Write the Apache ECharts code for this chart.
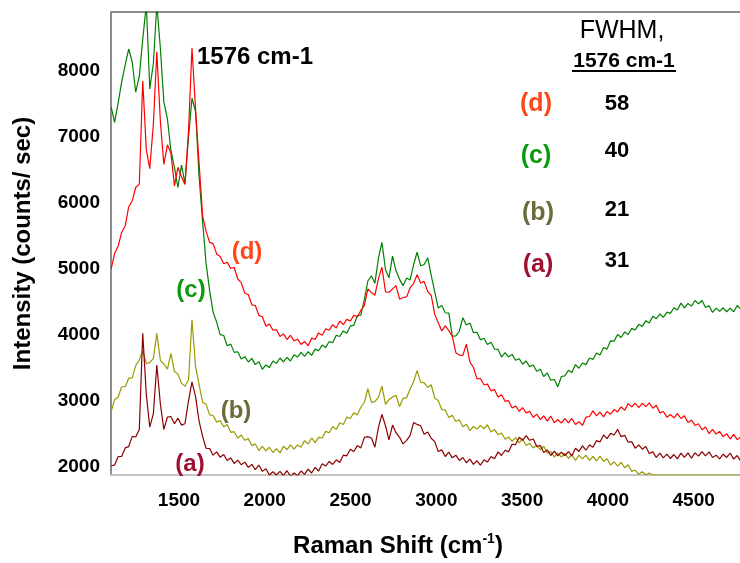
<!DOCTYPE html>
<html><head><meta charset="utf-8">
<script src="https://cdn.jsdelivr.net/npm/echarts@6/dist/echarts.min.js"></script>
<style>html,body{margin:0;padding:0;background:#fff}#c{width:740px;height:563px}</style>
</head><body><div id="c"></div>
<script>
// Raman shift sample positions (cm-1)
const xs = [
1105,1125,1146,1166,1187,1207,1228,1248,1269,1289,
1310,1330,1351,1371,1392,1412,1433,1453,1474,1494,
1515,1535,1556,1576,1597,1617,1638,1658,1679,1699,
1720,1740,1761,1781,1802,1822,1843,1863,1884,1904,
1925,1945,1966,1986,2007,2027,2048,2068,2089,2109,
2130,2150,2171,2191,2212,2232,2253,2273,2294,2314,
2335,2355,2376,2396,2417,2437,2458,2478,2499,2519,
2540,2560,2581,2601,2622,2642,2663,2683,2704,2724,
2745,2765,2786,2806,2827,2847,2868,2888,2909,2929,
2950,2970,2991,3011,3032,3052,3073,3093,3114,3134,
3155,3175,3196,3216,3237,3257,3278,3298,3319,3339,
3360,3380,3401,3421,3442,3462,3483,3503,3524,3544,
3565,3585,3606,3626,3647,3667,3688,3708,3729,3749,
3770,3790,3811,3831,3852,3872,3893,3913,3934,3954,
3975,3995,4016,4036,4057,4077,4098,4118,4139,4159,
4180,4200,4221,4241,4262,4282,4303,4323,4344,4364,
4385,4405,4426,4446,4467,4487,4508,4528,4549,4569,
4590,4610,4631,4651,4672,4692,4713,4733,4754,4774];

// (c) green spectrum, counts/sec
const specC = [
7445,7215,7515,7825,8090,8325,8125,7670,7915,8470,
9000,7720,8110,9000,8330,7525,7265,6795,6530,6230,
6570,6290,7000,7580,7380,6405,5710,5085,4670,4345,
4190,4005,3990,3835,3860,3735,3745,3635,3670,3590,
3645,3550,3595,3480,3545,3505,3605,3570,3650,3590,
3660,3605,3700,3665,3735,3675,3745,3690,3785,3760,
3845,3810,3900,3880,3995,3975,4060,4025,4135,4145,
4290,4300,4540,4815,4895,4780,5165,5400,4985,4865,
5190,4970,4840,4745,4860,4830,5065,5250,5045,5065,
5165,4905,4650,4405,4445,4335,4330,3980,3985,4055,
4260,4150,4180,4035,4040,3925,3950,3855,3890,3785,
3780,3665,3730,3665,3705,3615,3640,3555,3605,3520,
3545,3450,3480,3370,3425,3315,3325,3215,3370,3380,
3465,3430,3550,3495,3575,3550,3650,3630,3725,3695,
3810,3785,3910,3905,4005,3960,4045,4005,4100,4075,
4160,4125,4215,4180,4280,4245,4315,4265,4345,4325,
4410,4375,4480,4410,4475,4435,4520,4470,4520,4415,
4440,4340,4405,4355,4410,4350,4405,4350,4445,4390];

// (d) red spectrum
const specD = [
5000,5230,5345,5550,5650,5935,6030,6230,6280,7840,
6795,6515,7190,8285,7220,6580,6875,6750,6255,6535,
6390,6275,7090,8345,7410,6615,5800,5570,5400,5380,
5225,5185,5075,5100,5005,5020,4845,4790,4630,4610,
4455,4445,4295,4275,4130,4165,4070,4080,3975,4015,
3930,3995,3910,3935,3855,3900,3835,3950,3930,4030,
3995,4090,4070,4155,4105,4210,4155,4235,4210,4295,
4275,4370,4445,4695,4640,4600,4850,5025,4650,4645,
4695,4745,4540,4565,4575,4710,4780,4910,4785,4810,
4655,4600,4310,4185,4060,4135,4065,3980,3730,3695,
3690,3860,3590,3510,3335,3340,3245,3255,3150,3175,
3060,3095,2995,3005,2895,2925,2845,2900,2820,2845,
2750,2800,2720,2775,2695,2770,2670,2720,2665,2735,
2670,2735,2645,2685,2630,2755,2765,2850,2775,2830,
2760,2840,2800,2870,2835,2910,2860,2960,2910,2965,
2900,2965,2915,2970,2890,2935,2820,2840,2755,2795,
2745,2810,2735,2775,2675,2710,2630,2655,2565,2605,
2505,2570,2500,2540,2460,2505,2425,2495,2415,2455];

// (b) olive spectrum
const specB = [
2845,3020,3060,3215,3215,3345,3350,3535,3620,3760,
3570,3580,3645,4025,3610,3560,3480,3720,3445,3410,
3270,3220,3320,4230,3515,3255,2980,2950,2790,2780,
2680,2705,2610,2645,2525,2535,2435,2485,2405,2430,
2325,2350,2250,2315,2245,2300,2220,2280,2215,2315,
2265,2335,2270,2335,2300,2400,2350,2440,2370,2450,
2440,2540,2520,2615,2570,2670,2645,2755,2735,2820,
2790,2905,2985,3185,2980,2990,3060,3225,2950,3020,
3060,3085,2915,3040,3050,3180,3295,3460,3285,3275,
3205,3245,3045,3005,2870,2865,2750,2785,2690,2715,
2610,2650,2550,2615,2575,2630,2580,2640,2530,2570,
2490,2515,2420,2455,2390,2445,2365,2425,2325,2360,
2290,2330,2265,2315,2210,2235,2150,2215,2150,2205,
2130,2185,2100,2180,2125,2180,2100,2160,2095,2165,
2085,2125,2030,2080,2015,2070,1990,2035,1935,1955,
1890,1930,1885,1910,1880,1880,1880,1880,1880,1880,
1880,1880,1880,1880,1880,1880,1880,1880,1880,1880,
1880,1880,1880,1880,1880,1880,1880,1880,1880,1880];

// (a) dark red spectrum
const specA = [
2020,2030,2160,2160,2290,2310,2465,2455,2570,4025,
3090,2605,2810,3545,2950,2570,2755,2765,2655,2740,
2635,2655,3005,3290,3065,2700,2465,2285,2280,2180,
2230,2150,2190,2100,2140,2055,2105,2035,2075,1995,
2040,1960,2030,1935,1975,1880,1930,1880,1935,1870,
1945,1860,1910,1870,1940,1890,1970,1910,1995,1940,
2050,2015,2085,2040,2110,2070,2180,2170,2270,2235,
2325,2290,2450,2460,2440,2300,2605,2795,2625,2410,
2635,2520,2450,2350,2405,2475,2675,2645,2625,2495,
2530,2435,2385,2235,2260,2160,2225,2140,2180,2100,
2145,2065,2120,2040,2095,2030,2110,2075,2160,2125,
2230,2175,2255,2230,2345,2340,2450,2405,2475,2405,
2425,2315,2325,2220,2260,2175,2240,2170,2225,2175,
2235,2170,2285,2235,2320,2255,2335,2300,2400,2380,
2485,2430,2510,2485,2570,2460,2480,2375,2385,2285,
2335,2270,2310,2205,2230,2145,2210,2140,2195,2130,
2190,2125,2210,2145,2215,2135,2215,2165,2235,2170,
2230,2145,2180,2125,2195,2145,2210,2120,2175,2090];

const xTicks = [1500,2000,2500,3000,3500,4000,4500];
const yTicks = [2000,3000,4000,5000,6000,7000,8000];
const sampleLabels = ['(d)','(c)','(b)','(a)'];
const fwhmValues = ['58','40','21','31'];
const peakLabel = '1576 cm-1';

const FONT = '"Liberation Sans", Arial, Helvetica, sans-serif';
const colLine = {c:'#008000', d:'#ff0000', b:'#9a9a00', a:'#8b0000'};
const colText = ['#ff4719','#0c9a0c','#6b6b3b','#a01030'];

function pts(arr){ return xs.map((x,i)=>[x,arr[i]]); }
function mk(name, arr, color){
  return {name, type:'line', data:pts(arr), showSymbol:false, symbol:'none',
    lineStyle:{width:1.2, color}, itemStyle:{color}, clip:true, silent:true, z:2};
}
function txt(text,x,y,size,weight,color){
  return {type:'text', x, y, z:10, style:{text, fontSize:size, fontWeight:weight, fontFamily:FONT,
    fill:color, align:'center', verticalAlign:'middle'}};
}

const chart = echarts.init(document.getElementById('c'), null, {renderer:'canvas'});
const tableY = [[104,104],[156,151],[213,210],[265,261]];
const tableX = [[536,617],[536,617],[538,617],[538,617]];
const graphics = [
  txt(peakLabel,255,57,24,'bold','#000'),
  txt(sampleLabels[0],247,252,24,'bold',colText[0]),
  txt(sampleLabels[1],191,290,24,'bold',colText[1]),
  txt(sampleLabels[2],236,411,24,'bold',colText[2]),
  txt(sampleLabels[3],190,464,24,'bold',colText[3]),
  txt('FWHM,',622,31,25,'normal','#000'),
  txt(peakLabel,624,61,21,'bold','#000'),
  {type:'rect', shape:{x:572,y:70,width:104,height:2}, style:{fill:'#000'}, z:10}
];
sampleLabels.forEach((s,i)=>{
  graphics.push(txt(s,tableX[i][0],tableY[i][0],25,'bold',colText[i]));
  graphics.push(txt(fwhmValues[i],tableX[i][1],tableY[i][1],22,'bold','#000'));
});

const plain = v => String(v);

chart.setOption({
  animation:false,
  backgroundColor:'#fff',
  grid:{left:111, right:0, top:12, bottom:84, containLabel:false},
  xAxis:[{
    type:'value', min:1104, max:4770,
    axisLine:{show:true, onZero:false, lineStyle:{color:'#c4c4c4', width:2}},
    axisTick:{show:false}, splitLine:{show:false},
    axisLabel:{customValues:xTicks, formatter:plain, fontSize:19, fontWeight:'bold', color:'#000', fontFamily:FONT, margin:16},
    name:'{t|Raman Shift (cm}{s|-1}{t|)}', nameLocation:'middle', nameGap:57,
    nameTextStyle:{padding:[0,55,0,0], rich:{
      t:{fontSize:24, fontWeight:'bold', fontFamily:FONT, color:'#000', lineHeight:28},
      s:{fontSize:14, fontWeight:'bold', fontFamily:FONT, color:'#000', lineHeight:16, verticalAlign:'top'}}}
  },{
    type:'value', position:'top', min:1104, max:4770,
    axisLine:{show:true, onZero:false, lineStyle:{color:'#8c8c8c', width:2}},
    axisTick:{show:false}, splitLine:{show:false}, axisLabel:{show:false}
  }],
  yAxis:{
    type:'value', min:1880, max:8885,
    axisLine:{show:true, onZero:false, lineStyle:{color:'#8c8c8c', width:2}},
    axisTick:{show:false}, splitLine:{show:false},
    axisLabel:{customValues:yTicks, formatter:plain, fontSize:19, fontWeight:'bold', color:'#000', fontFamily:FONT, margin:11},
    name:'Intensity (counts/ sec)', nameLocation:'middle', nameGap:76,
    nameTextStyle:{fontSize:24, fontWeight:'bold', fontFamily:FONT, color:'#000'}
  },
  series:[
    mk('(c)', specC, colLine.c),
    mk('(d)', specD, colLine.d),
    mk('(b)', specB, colLine.b),
    mk('(a)', specA, colLine.a)
  ],
  graphic:graphics
});
</script></body></html>
